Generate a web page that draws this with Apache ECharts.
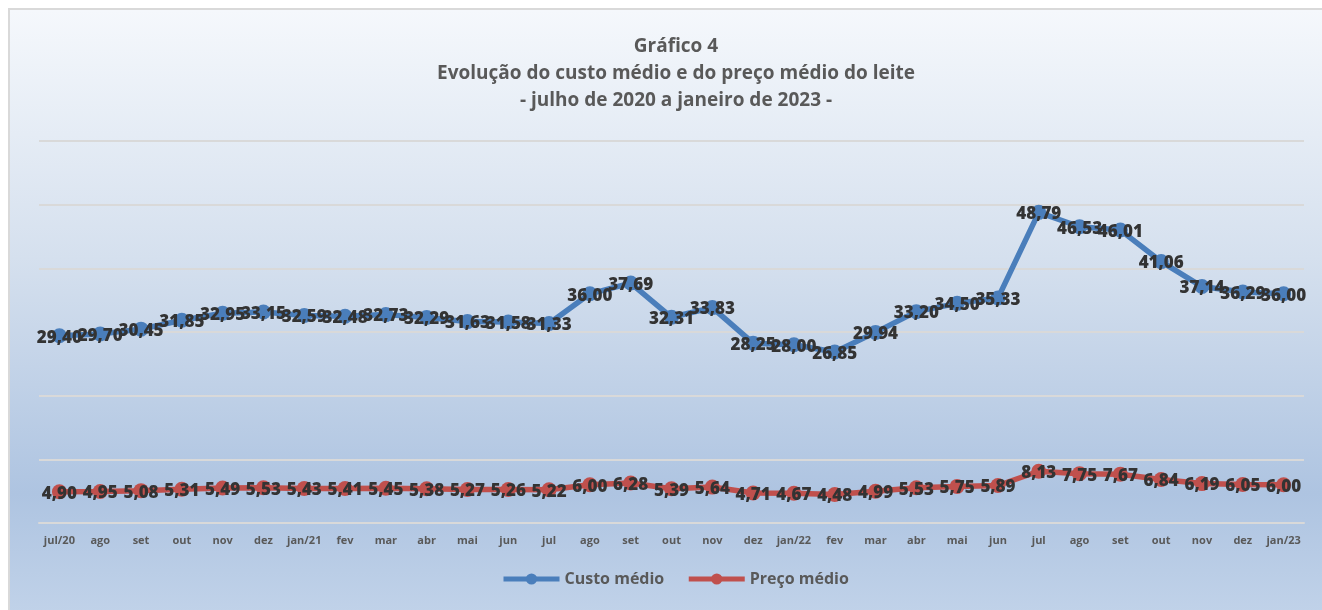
<!DOCTYPE html>
<html>
<head>
<meta charset="utf-8">
<script src="https://cdn.jsdelivr.net/npm/echarts@6/dist/echarts.min.js"></script>
<style>
  html, body { margin: 0; padding: 0; background: #fff; overflow: hidden; }
  .frame {
    position: absolute;
    left: 8px;
    top: 8px;
    width: 1330px;
    height: 620px;
    border: 2px solid #d9d9d9;
    background: linear-gradient(to bottom, #f5f8fc 0%, #d5e0ee 40%, #aec4e1 78%, #c3d4ea 100%);
  }
  #main { position: absolute; left: 0; top: 0; width: 1322px; height: 610px; }
</style>
</head>
<body>
<div class="frame"></div>
<div id="main"></div>
<script>
var categories = ['jul/20', 'ago', 'set', 'out', 'nov', 'dez', 'jan/21', 'fev', 'mar', 'abr', 'mai', 'jun',
  'jul', 'ago', 'set', 'out', 'nov', 'dez', 'jan/22', 'fev', 'mar', 'abr', 'mai', 'jun',
  'jul', 'ago', 'set', 'out', 'nov', 'dez', 'jan/23']
var custoMedio = [29.40, 29.70, 30.45, 31.85, 32.95, 33.15, 32.59, 32.48, 32.73, 32.29, 31.63, 31.58,
  31.33, 36.00, 37.69, 32.31, 33.83, 28.25, 28.00, 26.85, 29.94, 33.20, 34.50, 35.33,
  48.79, 46.53, 46.01, 41.06, 37.14, 36.29, 36.00]
var precoMedio = [4.90, 4.95, 5.08, 5.31, 5.49, 5.53, 5.43, 5.41, 5.45, 5.38, 5.27, 5.26,
  5.22, 6.00, 6.28, 5.39, 5.64, 4.71, 4.67, 4.48, 4.99, 5.53, 5.75, 5.89,
  8.13, 7.75, 7.67, 6.84, 6.19, 6.05, 6.00]
var titleLines = ['Gráfico 4', 'Evolução do custo médio e do preço médio do leite', '- julho de 2020 a janeiro de 2023 -']

var font = '"Open Sans", "Noto Sans", sans-serif'
var fmt = function (p) { return p.value.toFixed(2).replace('.', ',') }

var myChart = echarts.init(document.getElementById('main'))

function lineSeries(name, color, data) {
  return {
    name: name,
    type: 'line',
    data: data,
    symbol: 'circle',
    symbolSize: 15,
    lineStyle: { color: color, width: 5.5 },
    itemStyle: { color: color },
    label: {
      show: true,
      position: 'inside',
      offset: [0, 2],
      formatter: fmt,
      fontFamily: font,
      fontWeight: 800,
      fontSize: 17,
      color: '#333333',
    },
    emphasis: { disabled: true },
    animation: false,
  }
}

var option = {
  backgroundColor: 'transparent',
  // one title per line, each centred on x = 671 (the frame is a bit right of the page centre)
  title: titleLines.map(function (t, i) {
    return {
      text: t,
      left: 671,
      textAlign: 'center',
      top: 32 + i * 27,
      textStyle: {
        fontFamily: font,
        fontWeight: 'bold',
        fontSize: 19,
        color: '#595959',
      },
    }
  }),
  grid: {
    left: 39,
    right: 18,
    top: 141,
    bottom: 87,
    containLabel: false,
  },
  legend: {
    bottom: 18,
    left: 496,
    itemWidth: 56,
    itemHeight: 14,
    itemGap: 22,
    lineStyle: { width: 5 },
    textStyle: {
      fontFamily: font,
      fontWeight: 'bold',
      fontSize: 16,
      color: '#595959',
    },
    data: ['Custo médio', 'Preço médio'],
  },
  xAxis: {
    type: 'category',
    data: categories,
    boundaryGap: true,
    axisLine: { show: true, lineStyle: { color: '#d9d9d9', width: 2 } },
    axisTick: { show: false },
    axisLabel: {
      interval: 0,
      margin: 12,
      fontFamily: font,
      fontWeight: 'bold',
      fontSize: 11,
      color: '#595959',
    },
  },
  yAxis: {
    type: 'value',
    min: 0,
    max: 60,
    interval: 10,
    axisLine: { show: false },
    axisTick: { show: false },
    axisLabel: { show: false },
    splitLine: { show: true, lineStyle: { color: '#d9d9d9', width: 2 } },
  },
  series: [
    lineSeries('Custo médio', '#4a7ebb', custoMedio),
    lineSeries('Preço médio', '#c0504d', precoMedio),
  ],
}

option && myChart.setOption(option)
</script>
</body>
</html>
